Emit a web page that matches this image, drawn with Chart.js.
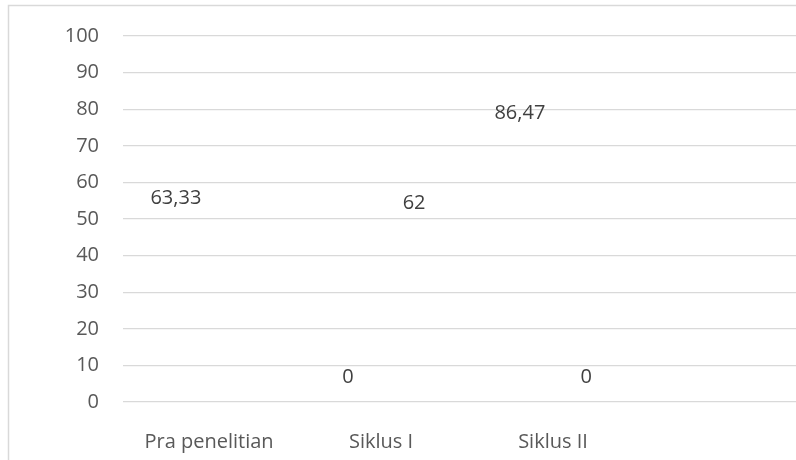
<!DOCTYPE html>
<html>
<head>
<meta charset="utf-8">
<script src="https://cdn.jsdelivr.net/npm/chart.js@4/dist/chart.umd.min.js"></script>
<style>
  html, body { margin: 0; padding: 0; background: #ffffff; overflow: hidden; width: 796px; height: 460px; }
  #wrap { position: relative; width: 830px; height: 460px; }
  canvas { display: block; }
</style>
</head>
<body>
<div id="wrap"><canvas id="c" width="830" height="460"></canvas></div>
<script>
// Stages of the study (last slot left empty)
const categories = ['Pra penelitian', 'Siklus I', 'Siklus II', ''];
// Two value series per stage
const seriesA = [63.33, 0, 86.47, null];
const seriesB = [null, 62, 0, null];
// Vertical axis ticks
const yTicks = [0, 10, 20, 30, 40, 50, 60, 70, 80, 90, 100];

const FONT = '"Open Sans", "Liberation Sans", sans-serif';

// Formats a number with a decimal comma
function fmt(v) {
  return String(v).replace('.', ',');
}

// Value labels drawn just inside the top of each bar (above the axis for zero)
const valueLabels = {
  id: 'valueLabels',
  afterDatasetsDraw(chart) {
    const ctx = chart.ctx;
    const y = chart.scales.y;
    ctx.save();
    ctx.font = '20px ' + FONT;
    ctx.fillStyle = '#404040';
    ctx.textAlign = 'center';
    ctx.textBaseline = 'middle';
    chart.data.datasets.forEach((ds, di) => {
      const meta = chart.getDatasetMeta(di);
      meta.data.forEach((el, i) => {
        const v = ds.data[i];
        if (v === null || v === undefined) return;
        const top = y.getPixelForValue(v);
        const ty = v > 0 ? top + 28 : top - 25;
        ctx.fillText(fmt(v), el.x, ty);
      });
    });
    ctx.restore();
  }
};

// Thin outer frame of the chart
const frame = {
  id: 'frame',
  beforeDraw(chart) {
    const ctx = chart.ctx;
    ctx.save();
    ctx.strokeStyle = '#d9d9d9';
    ctx.lineWidth = 1.5;
    ctx.beginPath();
    ctx.moveTo(8.5, 470);
    ctx.lineTo(8.5, 5.5);
    ctx.lineTo(900, 5.5);
    ctx.stroke();
    ctx.restore();
  }
};

new Chart(document.getElementById('c'), {
  type: 'bar',
  data: {
    labels: categories,
    datasets: [
      { label: 'A', data: seriesA, backgroundColor: 'rgba(0,0,0,0)', borderWidth: 0 },
      { label: 'B', data: seriesB, backgroundColor: 'rgba(0,0,0,0)', borderWidth: 0 }
    ]
  },
  options: {
    responsive: false,
    animation: false,
    categoryPercentage: 0.77,
    barPercentage: 0.95,
    layout: { padding: { left: 0, top: 34, right: 19, bottom: 0 } },
    plugins: {
      legend: { display: false },
      tooltip: { enabled: false },
      title: { display: false }
    },
    scales: {
      x: {
        grid: { display: false, drawTicks: false },
        border: { display: false },
        ticks: {
          color: '#595959',
          font: { family: FONT, size: 20 },
          padding: 28,
          maxRotation: 0,
          autoSkip: false
        },
        afterFit(scale) { scale.height = 58; }
      },
      y: {
        min: 0,
        max: 100,
        afterBuildTicks(scale) { scale.ticks = yTicks.map(v => ({ value: v })); },
        grid: { color: '#d9d9d9', lineWidth: 1.3, drawTicks: false },
        border: { display: false },
        ticks: {
          color: '#595959',
          font: { family: FONT, size: 20 },
          padding: 24
        },
        afterFit(scale) { scale.width = 123; }
      }
    }
  },
  plugins: [frame, valueLabels]
});
</script>
</body>
</html>
